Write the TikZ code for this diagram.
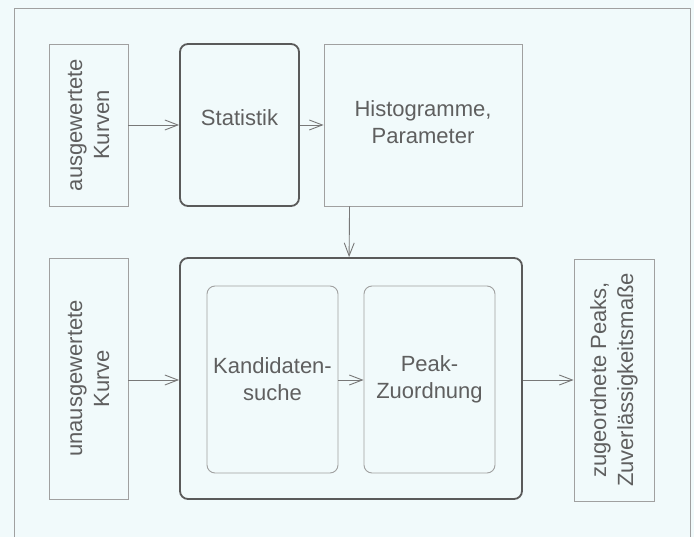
\documentclass[tikz,border=0pt]{standalone}
\usepackage{fontspec}
\setmainfont{Liberation Sans}
\usetikzlibrary{arrows.meta,calc}
\definecolor{bg}{RGB}{241,250,251}
\definecolor{thinline}{RGB}{160,160,160}
\definecolor{thickline}{RGB}{90,90,90}
\definecolor{arrline}{RGB}{120,120,120}
\definecolor{txt}{RGB}{95,95,95}
\tikzset{
  thinbox/.style={draw=thinline, line width=0.9pt, inner sep=0pt},
  thickbox/.style={draw=thickline, line width=1.8pt, rounded corners=8pt, inner sep=0pt},
  innerbox/.style={draw=thinline, line width=0.9pt, rounded corners=8pt, inner sep=0pt},
  lbl/.style={text=txt, font=\fontsize{22}{27}\selectfont, align=center, inner sep=0pt},
  vlbl/.style={lbl, rotate=90},
  arr/.style={draw=arrline, line width=0.9pt, -{Straight Barb[length=13pt,width=10pt,line width=0.9pt]}},
}
\begin{document}
\begin{tikzpicture}[x=1pt,y=-1pt]
\useasboundingbox (0,0) rectangle (694,537);
\fill[bg] (0,0) rectangle (694,537);
\draw[thinline, line width=0.9pt] (14,545) -- (14,8) -- (690,8) -- (690,545);

\node[thinbox, minimum width=79pt, minimum height=162pt] (A) at (88.5,125) {};
\node[vlbl] (At) at (A.center) {ausgewertete\\Kurven};
\node[thickbox, minimum width=119pt, minimum height=162pt] (S) at (239.5,125) {};
\node[lbl] (St) at (239.5,118) {Statistik};
\node[thinbox, minimum width=198pt, minimum height=162pt] (H) at (423,125) {};
\node[lbl] (Ht) at (423,122) {Histogramme,\\Parameter};

\node[thinbox, minimum width=79pt, minimum height=241pt] (B) at (88.5,378.5) {};
\node[vlbl] (Bt) at (B.center) {unausgewertete\\Kurve};
\node[thickbox, minimum width=342pt, minimum height=241pt] (G) at (351,378.5) {};
\node[innerbox, minimum width=131pt, minimum height=187pt] (K) at (272.5,379.5) {};
\node[lbl] (Kt) at (272.5,379) {Kandidaten-\\suche};
\node[innerbox, minimum width=131pt, minimum height=187pt] (P) at (429.5,379.5) {};
\node[lbl] (Pt) at (429.5,379) {Peak-\\Zuordnung};
\node[thinbox, minimum width=80pt, minimum height=242pt] (O) at (614,380) {};
\node[vlbl] (Ot) at (O.center) {zugeordnete Peaks,\\Zuverlässigkeitsmaße};

\draw[arr] (A.east) -- (S.west);
\draw[arr] (S.east) -- (H.west);
\draw[arr] ($(H.south west)+(26,0)$) -- ($(G.north west)+(170,0)$);
\draw[arr] (B.east |- 0,380) -- (G.west |- 0,380);
\draw[arr] (K.east |- 0,380) -- (P.west |- 0,380);
\draw[arr] (G.east |- 0,380) -- (O.west |- 0,380);
\end{tikzpicture}
\end{document}
